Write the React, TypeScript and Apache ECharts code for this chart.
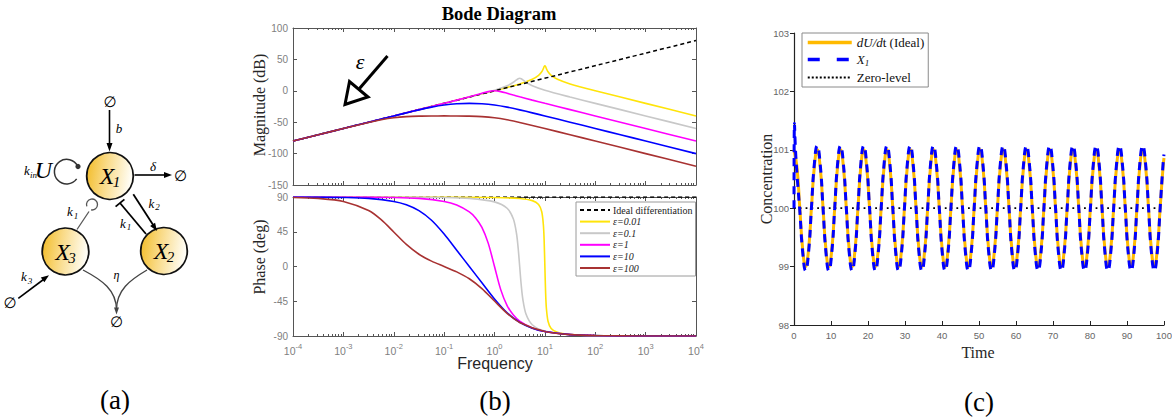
import React, { useEffect, useRef } from 'react';
import * as echarts from 'echarts';

const SERIF = "'Liberation Serif', 'Times New Roman', serif";
const SANS = "'Liberation Sans', Arial, sans-serif";

// ---------- Panel (b): Bode data (x given as log10 of frequency) ----------
const bodeNames = ['Ideal differentiation', 'ε=0.01', 'ε=0.1', 'ε=1', 'ε=10', 'ε=100'];
const bodeColors = ['#000000', '#FFE40A', '#C8C8C8', '#FF00FF', '#0000FF', '#A83232'];

const idealExp = [-4, 4];
const idealMag = [-80, 80];
const idealPhase = [90, 90];

const eps001Exp = [-4, -3, -2, -1, 0, 0.5, 0.75, 0.875, 0.9375, 0.97, 0.985, 1, 1.015, 1.03, 1.0625, 1.125, 1.25, 1.5, 2, 3, 4];
const eps001Mag = [-80, -60, -40, -20, 0.09, 10.91, 18.27, 24.55, 30.3, 35.36, 38.31, 40, 38.31, 35.36, 30.3, 24.55, 18.27, 10.91, 0.09, -20, -40];
const eps001Phase = [90, 90, 89.99, 89.94, 89.42, 87.99, 85.3, 80.28, 70.9, 54.11, 34.63, 0, -34.63, -54.11, -70.9, -80.28, -85.3, -87.99, -89.42, -89.94, -90];

const eps01Exp = [-4, -3, -2, -1, -0.5, 0, 0.25, 0.375, 0.4375, 0.47, 0.5, 0.53, 0.5625, 0.625, 0.75, 1, 1.5, 2, 3, 4];
const eps01Mag = [-80, -60, -40, -19.99, -9.92, 0.86, 8.02, 13.56, 17.37, 19.24, 20, 19.24, 17.37, 13.56, 8.02, 0.86, -9.92, -19.99, -40, -60];
const eps01Phase = [90, 89.99, 89.94, 89.43, 88.17, 83.66, 75.42, 61.56, 42.41, 23.61, 0, -23.61, -42.41, -61.56, -75.42, -83.66, -88.17, -89.43, -89.94, -90];

const eps1Exp = [-4, -3, -2, -1.5, -1, -0.75, -0.5, -0.375, -0.25, -0.125, 0, 0.125, 0.25, 0.375, 0.5, 0.75, 1, 1.5, 2, 3, 4];
const eps1Mag = [-80, -60, -40, -30, -19.96, -14.87, -9.59, -6.81, -3.94, -1.27, 0, -1.27, -3.94, -6.81, -9.59, -14.87, -19.96, -30, -40, -60, -80];
const eps1Phase = [90, 89.94, 89.43, 88.19, 84.23, 79.6, 70.64, 62.85, 50.57, 30.27, 0, -30.27, -50.57, -62.85, -70.64, -79.6, -84.23, -88.19, -89.43, -89.94, -90];

const eps10Exp = [-4, -3.5, -3, -2.5, -2, -1.75, -1.5, -1.25, -1, -0.75, -0.5, -0.25, 0, 0.25, 0.5, 0.75, 1, 1.5, 2, 2.5, 3, 4];
const eps10Mag = [-80, -70, -60, -50, -40.03, -35.11, -30.33, -25.98, -22.58, -20.6, -20, -20.6, -22.58, -25.98, -30.33, -35.11, -40.03, -50, -60, -70, -80, -100];
const eps10Phase = [89.94, 89.82, 89.43, 88.19, 84.28, 79.89, 72.29, 59.86, 41.99, 21.03, 0, -21.03, -41.99, -59.86, -72.29, -79.89, -84.28, -88.19, -89.43, -89.82, -89.94, -90];

const eps100Exp = [-4, -3.5, -3, -2.5, -2.25, -2, -1.75, -1.5, -1.25, -1, -0.75, -0.5, -0.25, 0, 0.25, 0.5, 1, 1.5, 2, 3, 4];
const eps100Mag = [-80, -70, -60.04, -50.41, -46.17, -42.97, -41.13, -40.34, -40.06, -40, -40.06, -40.34, -41.13, -42.97, -46.17, -50.41, -60.04, -70, -80, -100, -120];
const eps100Phase = [89.43, 88.19, 84.29, 72.44, 60.57, 44.71, 28.57, 15.89, 6.93, 0, -6.93, -15.89, -28.57, -44.71, -60.57, -72.44, -84.29, -88.19, -89.43, -89.94, -89.99];

const magTicks = [-150, -100, -50, 0, 50, 100];
const phaseTicks = [-90, -45, 0, 45, 90];

// ---------- Panel (c): time series ----------
const timeNames = ['dU/dt (Ideal)', 'X1', 'Zero-level'];

const tGrid = [
  0, 0.79, 1.57, 2.36, 3.14, 3.93, 4.71, 5.5,
  6.28, 7.07, 7.85, 8.64, 9.42, 10.21, 11.0, 11.78,
  12.57, 13.35, 14.14, 14.92, 15.71, 16.49, 17.28, 18.06,
  18.85, 19.63, 20.42, 21.21, 21.99, 22.78, 23.56, 24.35,
  25.13, 25.92, 26.7, 27.49, 28.27, 29.06, 29.85, 30.63,
  31.42, 32.2, 32.99, 33.77, 34.56, 35.34, 36.13, 36.91,
  37.7, 38.48, 39.27, 40.06, 40.84, 41.63, 42.41, 43.2,
  43.98, 44.77, 45.55, 46.34, 47.12, 47.91, 48.69, 49.48,
  50.27, 51.05, 51.84, 52.62, 53.41, 54.19, 54.98, 55.76,
  56.55, 57.33, 58.12, 58.9, 59.69, 60.48, 61.26, 62.05,
  62.83, 63.62, 64.4, 65.19, 65.97, 66.76, 67.54, 68.33,
  69.12, 69.9, 70.69, 71.47, 72.26, 73.04, 73.83, 74.61,
  75.4, 76.18, 76.97, 77.75, 78.54, 79.33, 80.11, 80.9,
  81.68, 82.47, 83.25, 84.04, 84.82, 85.61, 86.39, 87.18,
  87.96, 88.75, 89.54, 90.32, 91.11, 91.89, 92.68, 93.46,
  94.25, 95.03, 95.82, 96.6, 97.39, 98.17, 98.96, 99.75,
  100,
];

const idealV = [
  101, 100.71, 100, 99.29, 99, 99.29, 100, 100.71,
  101, 100.71, 100, 99.29, 99, 99.29, 100, 100.71,
  101, 100.71, 100, 99.29, 99, 99.29, 100, 100.71,
  101, 100.71, 100, 99.29, 99, 99.29, 100, 100.71,
  101, 100.71, 100, 99.29, 99, 99.29, 100, 100.71,
  101, 100.71, 100, 99.29, 99, 99.29, 100, 100.71,
  101, 100.71, 100, 99.29, 99, 99.29, 100, 100.71,
  101, 100.71, 100, 99.29, 99, 99.29, 100, 100.71,
  101, 100.71, 100, 99.29, 99, 99.29, 100, 100.71,
  101, 100.71, 100, 99.29, 99, 99.29, 100, 100.71,
  101, 100.71, 100, 99.29, 99, 99.29, 100, 100.71,
  101, 100.71, 100, 99.29, 99, 99.29, 100, 100.71,
  101, 100.71, 100, 99.29, 99, 99.29, 100, 100.71,
  101, 100.71, 100, 99.29, 99, 99.29, 100, 100.71,
  101, 100.71, 100, 99.29, 99, 99.29, 100, 100.71,
  101, 100.71, 100, 99.29, 99, 99.29, 100, 100.71,
  100.86,
];

// X1: initial transient, then values on tGrid from its 2nd entry on
const x1LeadT = [0, 0.12, 0.4];
const x1LeadV = [100, 101.45, 101.0];
const x1V = [
  100.6, 99.95, 99.24, 98.93, 99.24, 100, 100.76,
  101.07, 100.76, 100, 99.24, 98.93, 99.24, 100, 100.76,
  101.07, 100.76, 100, 99.24, 98.93, 99.24, 100, 100.76,
  101.07, 100.76, 100, 99.24, 98.93, 99.24, 100, 100.76,
  101.07, 100.76, 100, 99.24, 98.93, 99.24, 100, 100.76,
  101.07, 100.76, 100, 99.24, 98.93, 99.24, 100, 100.76,
  101.07, 100.76, 100, 99.24, 98.93, 99.24, 100, 100.76,
  101.07, 100.76, 100, 99.24, 98.93, 99.24, 100, 100.76,
  101.07, 100.76, 100, 99.24, 98.93, 99.24, 100, 100.76,
  101.07, 100.76, 100, 99.24, 98.93, 99.24, 100, 100.76,
  101.07, 100.76, 100, 99.24, 98.93, 99.24, 100, 100.76,
  101.07, 100.76, 100, 99.24, 98.93, 99.24, 100, 100.76,
  101.07, 100.76, 100, 99.24, 98.93, 99.24, 100, 100.76,
  101.07, 100.76, 100, 99.24, 98.93, 99.24, 100, 100.76,
  101.07, 100.76, 100, 99.24, 98.93, 99.24, 100, 100.76,
  101.07, 100.76, 100, 99.24, 98.93, 99.24, 100, 100.76,
  100.92,
];

const zeroT = [0, 100];
const zeroV = [100, 100];

const timeTicks = [0, 10, 20, 30, 40, 50, 60, 70, 80, 90, 100];
const concTicks = [98, 99, 100, 101, 102, 103];

// ---------- helpers ----------
const logPairs = (ex: number[], v: number[]) => ex.map((e, i) => [Math.pow(10, e), v[i]]);
const pairs = (t: number[], v: number[]) => t.map((x, i) => [x, v[i]]);

const AX = '#555555';
const LBL = '#808080';
const NO_SYMBOL = { color: 'rgba(0,0,0,0)', borderColor: 'rgba(0,0,0,0)', borderWidth: 0, opacity: 0 };

function logX(gridIndex: number, position: string, label: boolean) {
  return {
    type: 'log', logBase: 10, gridIndex, position, min: 1e-4, max: 1e4,
    axisLine: { show: true, onZero: false, lineStyle: { color: AX, width: 1 } },
    axisTick: { show: true, inside: true, length: 4, lineStyle: { color: AX } },
    minorTick: { show: true, splitNumber: 9, length: 2, lineStyle: { color: AX } },
    splitLine: { show: false }, minorSplitLine: { show: false },
    axisLabel: label
      ? {
          show: true, margin: 6,
          formatter: (v: number) => '{b|10}{p|' + Math.round(Math.log10(v)) + '}',
          rich: {
            b: { fontSize: 10.5, color: LBL, fontFamily: SANS, lineHeight: 14, verticalAlign: 'bottom' },
            p: { fontSize: 7.5, color: LBL, fontFamily: SANS, lineHeight: 8, verticalAlign: 'top' },
          },
        }
      : { show: false },
  };
}

function valY(gridIndex: number, position: string, ticks: number[], label: boolean) {
  return {
    type: 'value', gridIndex, position, min: ticks[0], max: ticks[ticks.length - 1],
    interval: ticks[1] - ticks[0],
    axisLine: { show: true, onZero: false, lineStyle: { color: AX, width: 1 } },
    axisTick: { show: true, inside: true, length: 4, lineStyle: { color: AX } },
    splitLine: { show: false },
    axisLabel: label ? { show: true, color: LBL, fontSize: 10, fontFamily: SANS, margin: 5 } : { show: false },
  };
}

function bodeLine(name: string, color: string, xi: number, yi: number, data: any, dashed = false) {
  return {
    type: 'line', name, xAxisIndex: xi, yAxisIndex: yi, data,
    symbol: 'none', showSymbol: false, smooth: 0.3,
    lineStyle: { color, width: dashed ? 1.5 : 1.6, type: dashed ? [4, 3] : 'solid' },
    itemStyle: { color },
    emphasis: { disabled: true },
  };
}

const txt = (x: number, y: number, text: string, o: any = {}) => ({
  type: 'text', x, y, rotation: o.rot || 0, silent: true, z: 10,
  style: {
    text, fill: o.fill || '#000',
    fontSize: o.size || 14, fontFamily: o.family || SERIF,
    fontStyle: o.italic ? 'italic' : 'normal', fontWeight: o.bold ? 'bold' : 'normal',
    align: o.align || 'center', verticalAlign: 'middle',
    textAlign: o.align || 'center', textVerticalAlign: 'middle',
  },
});
const ln = (x1: number, y1: number, x2: number, y2: number, stroke = '#000', w = 1.5) => ({
  type: 'line', silent: true, z: 10, shape: { x1, y1, x2, y2 }, style: { stroke, lineWidth: w },
});
const poly = (points: number[][], fill = '#000', stroke?: string, w = 1) => ({
  type: 'polygon', silent: true, z: 10, shape: { points },
  style: stroke ? { fill, stroke, lineWidth: w, lineJoin: 'miter' } : { fill },
});
const ball = (cx: number, cy: number) => ({
  type: 'circle', silent: true, z: 9, shape: { cx, cy, r: 23.3 },
  style: {
    fill: new echarts.graphic.LinearGradient(0, 0, 1, 0.15, [
      { offset: 0, color: '#F2BA22' },
      { offset: 0.45, color: '#F9DA86' },
      { offset: 1, color: '#FFFDF4' },
    ]),
    stroke: '#111', lineWidth: 1.8,
  },
});
const deg = (d: number) => (d * Math.PI) / 180;

function buildGraphic() {
  const g: any[] = [];
  // ----- panel (a) network -----
  g.push(ball(110, 176), ball(65.5, 251.5), ball(164, 251));
  g.push(txt(107, 176, 'X', { size: 24, italic: true }), txt(116.5, 182, '1', { size: 15, italic: true }));
  g.push(txt(62.5, 251.5, 'X', { size: 24, italic: true }), txt(72, 257.5, '3', { size: 15, italic: true }));
  g.push(txt(161, 251, 'X', { size: 24, italic: true }), txt(170.5, 257, '2', { size: 15, italic: true }));
  // top inflow b
  g.push(txt(110, 102, '∅', { size: 15, family: "'DejaVu Sans', sans-serif" }));
  g.push(ln(109.5, 110, 109.5, 145, '#000', 1.6));
  g.push(poly([[109.5, 151.5], [106.5, 143], [112.5, 143]]));
  g.push(txt(119, 128, 'b', { size: 13, italic: true }));
  // degradation delta
  g.push(ln(134.5, 175, 166, 175, '#000', 1.6));
  g.push(poly([[172, 175], [164, 172], [164, 178]]));
  g.push(txt(153, 166, 'δ', { size: 13, italic: true }));
  g.push(txt(180.5, 175.5, '∅', { size: 15, family: "'DejaVu Sans', sans-serif" }));
  // k_in U self loop
  g.push({
    type: 'arc', silent: true, z: 10,
    shape: { cx: 66.7, cy: 171.7, r: 12.3, startAngle: deg(36), endAngle: deg(334), clockwise: true },
    style: { stroke: '#333', lineWidth: 1.5, fill: 'none' },
  });
  g.push({ type: 'circle', silent: true, z: 10, shape: { cx: 78, cy: 166.5, r: 2.6 }, style: { fill: '#333' } });
  g.push(txt(43.5, 170, 'U', { size: 24, italic: true }));
  g.push(txt(27, 170.5, 'k', { size: 13, italic: true }), txt(33.5, 175, 'in', { size: 9, italic: true }));
  // k1 loop from X3 to X1 (gray)
  g.push(ln(77, 229.5, 89, 211.5, '#555', 1.3));
  g.push({
    type: 'arc', silent: true, z: 10,
    shape: { cx: 92, cy: 204.5, r: 5.5, startAngle: deg(160), endAngle: deg(460), clockwise: true },
    style: { stroke: '#555', lineWidth: 1.3, fill: 'none' },
  });
  g.push(txt(70, 211.5, 'k', { size: 13, italic: true }), txt(76, 215.5, '1', { size: 9, italic: true }));
  // k2 arrow X1 -> X2
  g.push(ln(133.3, 194.3, 153.5, 225.5, '#000', 1.8));
  g.push(poly([[157, 231], [150.1, 225.9], [155.1, 222.7]]));
  g.push(txt(151.5, 203, 'k', { size: 13, italic: true }), txt(157.5, 207, '2', { size: 9, italic: true }));
  // k1 inhibition X2 -| X1
  g.push(ln(146, 234, 120, 203, '#000', 1.8));
  g.push(ln(115.6, 206.6, 124.4, 199.4, '#000', 1.8));
  g.push(txt(123, 223, 'k', { size: 13, italic: true }), txt(129, 227, '1', { size: 9, italic: true }));
  // k3 inflow to X3
  g.push(txt(10, 303, '∅', { size: 15, family: "'DejaVu Sans', sans-serif" }));
  g.push(ln(18.3, 298.3, 43.5, 279.5, '#000', 1.6));
  g.push(poly([[49, 275.3], [44.4, 282.2], [40.8, 277.4]]));
  g.push(txt(24, 276.5, 'k', { size: 13, italic: true }), txt(30, 280.5, '3', { size: 9, italic: true }));
  // eta: joint degradation
  g.push({
    type: 'bezierCurve', silent: true, z: 10,
    shape: { x1: 83, y1: 270, cpx1: 102, cpy1: 280, cpx2: 116.5, cpy2: 290, x2: 116.5, y2: 310 },
    style: { stroke: '#444', lineWidth: 1.4, fill: 'none' },
  });
  g.push({
    type: 'bezierCurve', silent: true, z: 10,
    shape: { x1: 147, y1: 270, cpx1: 130, cpy1: 280, cpx2: 116.5, cpy2: 290, x2: 116.5, y2: 310 },
    style: { stroke: '#444', lineWidth: 1.4, fill: 'none' },
  });
  g.push(poly([[116.5, 314.5], [114, 307.5], [119, 307.5]], '#444'));
  g.push(txt(116.5, 275, 'η', { size: 12, italic: true }));
  g.push(txt(116.5, 322, '∅', { size: 15, family: "'DejaVu Sans', sans-serif" }));

  // ----- panel (b) texts -----
  g.push(txt(499, 14, 'Bode Diagram', { size: 18.5, bold: true }));
  g.push(txt(259, 105, 'Magnitude (dB)', { size: 16, rot: Math.PI / 2, fill: '#262626' }));
  g.push(txt(259, 257, 'Phase (deg)', { size: 16, rot: Math.PI / 2, fill: '#262626' }));
  g.push(txt(495, 363, 'Frequency', { size: 16, family: SANS, fill: '#262626' }));
  // epsilon arrow
  g.push(ln(387.5, 56, 359.5, 88.5, '#000', 3));
  g.push(poly([[345, 104.5], [349.5, 81.5], [368, 97]], '#fff', '#000', 3));
  g.push(txt(360, 61, 'ε', { size: 22, italic: true }));

  // ----- panel (c) texts -----
  g.push(txt(766, 179, 'Concentration', { size: 16, rot: Math.PI / 2, fill: '#262626' }));
  g.push(txt(978, 352, 'Time', { size: 16, fill: '#262626' }));

  // panel letters
  g.push(txt(115, 400, '(a)', { size: 27 }));
  g.push(txt(495, 401, '(b)', { size: 27 }));
  g.push(txt(979, 402, '(c)', { size: 27 }));
  return g;
}

function buildOption() {
  const magData = [
    logPairs(idealExp, idealMag), logPairs(eps001Exp, eps001Mag), logPairs(eps01Exp, eps01Mag),
    logPairs(eps1Exp, eps1Mag), logPairs(eps10Exp, eps10Mag), logPairs(eps100Exp, eps100Mag),
  ];
  const phData = [
    logPairs(idealExp, idealPhase), logPairs(eps001Exp, eps001Phase), logPairs(eps01Exp, eps01Phase),
    logPairs(eps1Exp, eps1Phase), logPairs(eps10Exp, eps10Phase), logPairs(eps100Exp, eps100Phase),
  ];
  // drawing order: yellow, gray, ideal, magenta, blue, brown
  const order = [1, 2, 0, 3, 4, 5];
  const series: any[] = [];
  order.forEach((k) => series.push(bodeLine(bodeNames[k], bodeColors[k], 0, 0, magData[k], k === 0)));
  [0, 1, 2, 3, 4, 5].forEach((k) => series.push(bodeLine(bodeNames[k], bodeColors[k], 2, 2, phData[k], k === 0)));

  const x1Data = pairs(x1LeadT, x1LeadV).concat(pairs(tGrid.slice(1), x1V));
  series.push({
    type: 'line', name: timeNames[2], xAxisIndex: 4, yAxisIndex: 4, data: pairs(zeroT, zeroV),
    symbol: 'none', lineStyle: { color: '#000', width: 1.8, type: [1.8, 4] }, itemStyle: { color: '#000' },
    emphasis: { disabled: true },
  });
  series.push({
    type: 'line', name: timeNames[0], xAxisIndex: 4, yAxisIndex: 4, data: pairs(tGrid, idealV),
    symbol: 'none', smooth: 0.5, lineStyle: { color: '#FFBA00', width: 3 }, itemStyle: { color: '#FFBA00' },
    emphasis: { disabled: true },
  });
  series.push({
    type: 'line', name: timeNames[1], xAxisIndex: 4, yAxisIndex: 4, data: x1Data,
    symbol: 'none', smooth: 0.5, lineStyle: { color: '#0000FF', width: 3, type: [8, 6] }, itemStyle: { color: '#0000FF' },
    emphasis: { disabled: true },
  });

  return {
    animation: false,
    backgroundColor: '#ffffff',
    textStyle: { fontFamily: SANS },
    grid: [
      { left: 293, top: 28, width: 403, height: 157, outerBoundsMode: 'none' },
      { left: 293, top: 197, width: 403, height: 139, outerBoundsMode: 'none' },
      { left: 794, top: 33, width: 370, height: 292, outerBoundsMode: 'none' },
    ],
    xAxis: [
      logX(0, 'bottom', false),
      logX(0, 'top', false),
      logX(1, 'bottom', true),
      logX(1, 'top', false),
      {
        type: 'value', gridIndex: 2, position: 'bottom', min: timeTicks[0], max: timeTicks[timeTicks.length - 1],
        interval: timeTicks[1] - timeTicks[0],
        axisLine: { show: true, onZero: false, lineStyle: { color: '#222', width: 1.2 } },
        axisTick: { show: true, inside: true, length: 4, lineStyle: { color: '#222' } },
        splitLine: { show: false },
        axisLabel: { color: '#666', fontSize: 9.5, fontFamily: SANS, margin: 5 },
      },
    ],
    yAxis: [
      valY(0, 'left', magTicks, true),
      valY(0, 'right', magTicks, false),
      valY(1, 'left', phaseTicks, true),
      valY(1, 'right', phaseTicks, false),
      {
        type: 'value', gridIndex: 2, position: 'left', min: concTicks[0], max: concTicks[concTicks.length - 1],
        interval: concTicks[1] - concTicks[0],
        axisLine: { show: true, onZero: false, lineStyle: { color: '#222', width: 1.2 } },
        axisTick: { show: true, inside: false, length: 4, lineStyle: { color: '#222' } },
        splitLine: { show: false },
        axisLabel: { color: '#666', fontSize: 9.5, fontFamily: SANS, margin: 5 },
      },
    ],
    legend: [
      {
        orient: 'vertical', left: 576, top: 202, padding: [3, 3, 3, 3], itemGap: 1.6,
        itemWidth: 30, itemHeight: 9, selectedMode: false,
        borderColor: '#9a9a9a', borderWidth: 1, backgroundColor: '#ffffff',
        itemStyle: NO_SYMBOL,
        lineStyle: { width: 2 },
        data: bodeNames,
        formatter: (n: string) => (n.startsWith('ε') ? '{i|' + n + '}' : n),
        textStyle: {
          fontFamily: SERIF, fontSize: 10, color: '#222', padding: [0, 0, 0, -2],
          rich: { i: { fontFamily: SERIF, fontSize: 10, fontStyle: 'italic', color: '#222' } },
        },
      },
      {
        orient: 'vertical', left: 802, top: 33, padding: [3, 4, 3, 4], itemGap: 4,
        itemWidth: 44, itemHeight: 14, selectedMode: false,
        borderColor: '#8a8a8a', borderWidth: 1, backgroundColor: '#ffffff',
        itemStyle: NO_SYMBOL,
        data: [
          { name: timeNames[0], lineStyle: { width: 3.5 } },
          { name: timeNames[1], lineStyle: { width: 3.5, type: [12, 17] } },
          { name: timeNames[2], lineStyle: { width: 2, type: [2, 2] } },
        ],
        formatter: (n: string) =>
          n === 'dU/dt (Ideal)' ? '{i|dU/d}t (Ideal)' : n === 'X1' ? '{i|X}{s|1}' : n,
        textStyle: {
          fontFamily: SERIF, fontSize: 13, color: '#111',
          rich: {
            i: { fontFamily: SERIF, fontSize: 13, fontStyle: 'italic', color: '#111' },
            s: { fontFamily: SERIF, fontSize: 9, fontStyle: 'italic', color: '#111', padding: [6, 0, 0, 0] },
          },
        },
      },
    ],
    graphic: { elements: buildGraphic() },
    series,
  };
}

export default function App() {
  const ref = useRef<HTMLDivElement>(null);
  useEffect(() => {
    if (!ref.current) return;
    const chart = echarts.init(ref.current, null, { renderer: 'svg' });
    chart.setOption(buildOption() as any);
    return () => chart.dispose();
  }, []);
  return (
    <div
      ref={ref}
      style={{ position: 'fixed', left: 0, top: 0, width: 1172, height: 420, background: '#fff' }}
    />
  );
}
